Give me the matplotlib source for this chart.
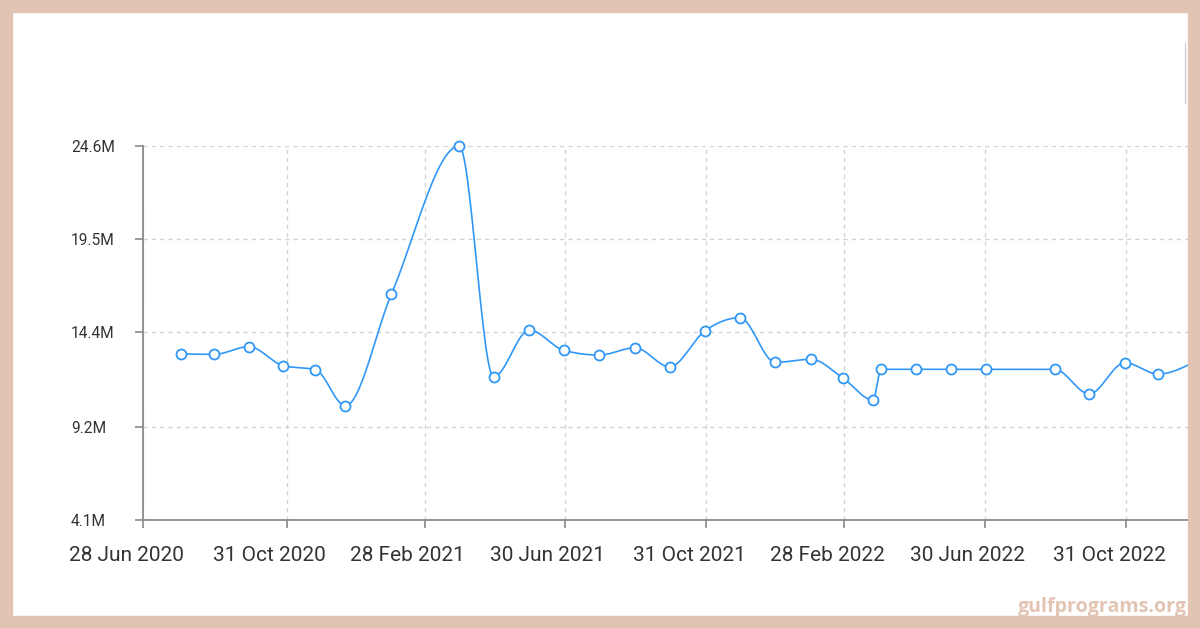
import numpy as np
import pandas as pd
import matplotlib
matplotlib.use("Agg")
import matplotlib.pyplot as plt
import matplotlib.dates as mdates
import matplotlib.transforms as mtransforms
from matplotlib.patches import Rectangle
from matplotlib.lines import Line2D

# values (millions)
dates = ["2020-07-31", "2020-08-29", "2020-09-28", "2020-10-28", "2020-11-25",
         "2020-12-21", "2021-01-30", "2021-03-30", "2021-04-29", "2021-05-30",
         "2021-06-29", "2021-07-30", "2021-08-30", "2021-09-29", "2021-10-30",
         "2021-11-29", "2021-12-30", "2022-01-30", "2022-02-27", "2022-03-25",
         "2022-04-01", "2022-05-01", "2022-06-01", "2022-07-01", "2022-08-30",
         "2022-09-29", "2022-10-30", "2022-11-28", "2022-12-29"]
values = [13.20, 13.18, 13.60, 12.56, 12.34, 10.36, 16.47, 24.60, 11.95, 14.51,
          13.40, 13.14, 13.54, 12.50, 14.48, 15.19, 12.74, 12.91, 11.87, 10.68,
          12.36, 12.36, 12.36, 12.36, 12.36, 11.01, 12.72, 12.10, 12.75]

tick_dates = ["2020-06-28", "2020-10-31", "2021-02-28", "2021-06-30",
              "2021-10-31", "2022-02-28", "2022-06-30", "2022-10-31"]
tick_labels = ["28 Jun 2020", "31 Oct 2020", "28 Feb 2021", "30 Jun 2021",
               "31 Oct 2021", "28 Feb 2022", "30 Jun 2022", "31 Oct 2022"]
y_ticks = [4.1, 9.2, 14.4, 19.5, 24.6]
y_labels = ["4.1M", "9.2M", "14.4M", "19.5M", "24.6M"]

blue = "#3197f7"
frame = "#e2c4b3"


def monotone_x(x, y, n=30):
    # same idea as d3 curveMonotoneX
    x = np.asarray(x, float)
    y = np.asarray(y, float)
    h = np.diff(x)
    s = np.diff(y) / h
    t = np.zeros_like(y)
    for i in range(1, len(y) - 1):
        p = (s[i - 1] * h[i] + s[i] * h[i - 1]) / (h[i - 1] + h[i])
        t[i] = (np.sign(s[i - 1]) + np.sign(s[i])) * min(abs(s[i - 1]), abs(s[i]), 0.5 * abs(p))
    t[0] = (3 * s[0] - t[1]) / 2
    t[-1] = (3 * s[-1] - t[-2]) / 2
    xs, ys = [], []
    for i in range(len(h)):
        u = np.linspace(0, 1, n)
        h00 = 2 * u**3 - 3 * u**2 + 1
        h10 = u**3 - 2 * u**2 + u
        h01 = -2 * u**3 + 3 * u**2
        h11 = u**3 - u**2
        xs.append(x[i] + u * h[i])
        ys.append(h00 * y[i] + h10 * h[i] * t[i] + h01 * y[i + 1] + h11 * h[i] * t[i + 1])
    return np.concatenate(xs), np.concatenate(ys)


plt.rcParams['font.family'] = ['Roboto', 'DejaVu Sans']

fig = plt.figure(figsize=(12, 6.28), dpi=100)
W, H = 1200, 628
ax = fig.add_axes([143 / W, 1 - 520 / H, (1188 - 143) / W, (520 - 146) / H])

xd = mdates.date2num(pd.to_datetime(dates))
sx, sy = monotone_x(xd, values)
ax.plot(sx, sy, color=blue, lw=1.2, clip_on=False, zorder=3)
ax.plot(xd, values, 'o', ms=7.2, mfc='white', mec=blue, mew=1.3, clip_on=False, zorder=4)

x0 = mdates.date2num(pd.Timestamp("2020-06-28"))
x1 = x0 + (1188 - 143) / 1.1497
ax.set_xlim(x0, x1)
ax.set_ylim(4.1, 24.6)

ax.set_xticks(mdates.date2num(pd.to_datetime(tick_dates)))
ax.set_xticklabels(tick_labels)
ax.set_yticks(y_ticks)
ax.set_yticklabels(y_labels)

for sp in ['top', 'right']:
    ax.spines[sp].set_visible(False)
for sp in ['left', 'bottom']:
    ax.spines[sp].set_color('#8a8a8a')
    ax.spines[sp].set_linewidth(1.3)
ax.tick_params(axis='both', colors='#8a8a8a', length=6, width=1.2, labelcolor='#333333')
ax.tick_params(axis='x', pad=13, labelsize=15)
ax.tick_params(axis='y', pad=46, labelsize=11.2)
for lab in ax.get_yticklabels():
    lab.set_ha('left')
# date labels sit a little left of their ticks in the original
shift = mtransforms.ScaledTranslation(-17 / 100, 0, fig.dpi_scale_trans)
for lab in ax.get_xticklabels():
    lab.set_transform(lab.get_transform() + shift)
ax.grid(True, color='#d2d2d2', linestyle=(0, (3, 3)), lw=1)
ax.set_axisbelow(True)

# frame around the picture
fig.patches.append(Rectangle((0, 0), 1, 12 / H, transform=fig.transFigure, color=frame, zorder=10))
fig.patches.append(Rectangle((0, 1 - 12 / H), 1, 12 / H, transform=fig.transFigure, color=frame, zorder=10))
fig.patches.append(Rectangle((0, 0), 12 / W, 1, transform=fig.transFigure, color=frame, zorder=10))
fig.patches.append(Rectangle((1188 / W, 0), 12 / W, 1, transform=fig.transFigure, color=frame, zorder=10))
fig.lines.append(Line2D([1185 / W, 1185 / W], [1 - 43 / H, 1 - 103 / H], transform=fig.transFigure,
                        color='#c8c8c8', lw=0.8, zorder=9))

fig.text(1187 / W, 1 - 612 / H, "gulfprograms.org", ha='right', va='baseline',
         color=frame, fontsize=14.1, fontweight='bold', family=['Open Sans', 'DejaVu Sans'], zorder=11)

fig.savefig("out.png", dpi=100)
